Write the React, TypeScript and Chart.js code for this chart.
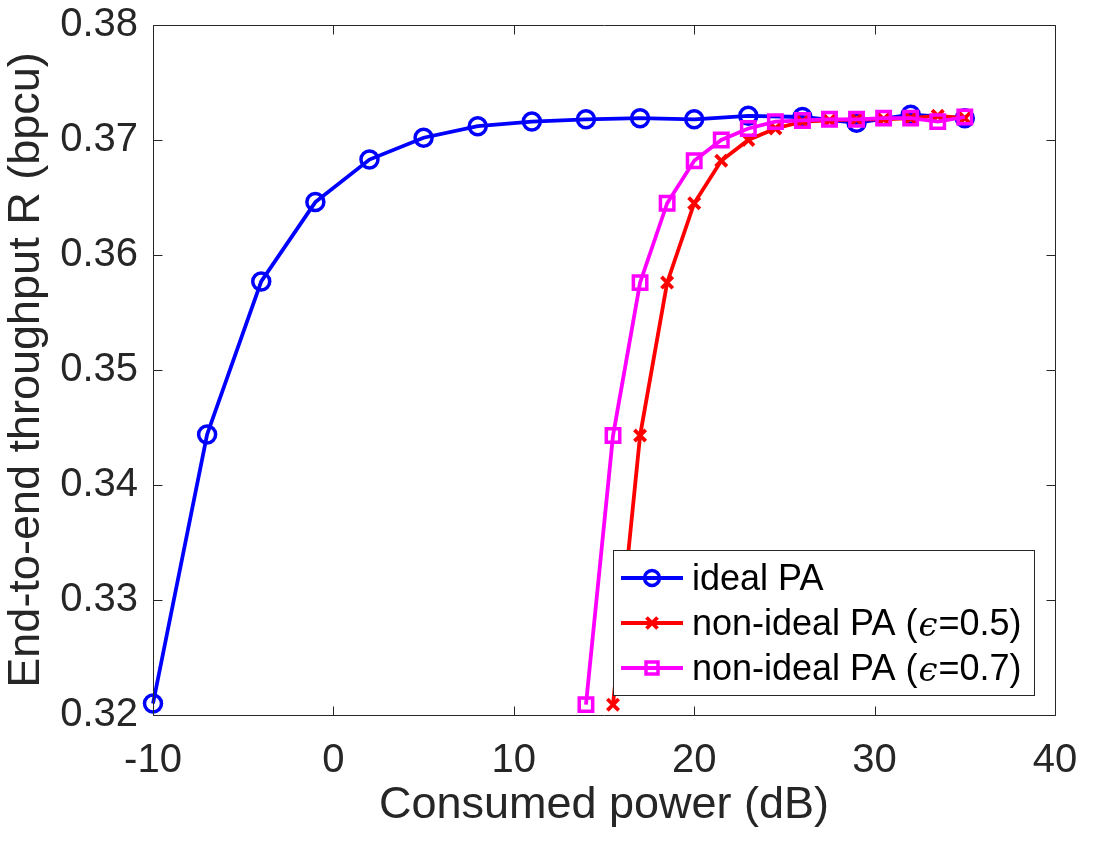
import React, { useEffect, useRef } from "react";
import { Chart, registerables } from "chart.js";

Chart.register(...registerables);

// ---- data ----
const idealX = [-10, -7, -4, -1, 2, 5, 8, 11, 14, 17, 20, 23, 26, 29, 32, 35];
const idealY = [0.321, 0.3444, 0.3577, 0.3646, 0.3683, 0.3702, 0.3712, 0.3716, 0.3718, 0.3719, 0.3718, 0.3721, 0.372, 0.3715, 0.3722, 0.3719];

const nonIdeal05X = [15.5, 17, 18.5, 20, 21.5, 23, 24.5, 26, 27.5, 29, 30.5, 32, 33.5, 35];
const nonIdeal05Y = [0.3209, 0.3443, 0.3576, 0.3645, 0.3682, 0.37, 0.371, 0.3716, 0.3717, 0.3718, 0.3718, 0.3719, 0.3721, 0.3719];

const nonIdeal07X = [14, 15.5, 17, 18.5, 20, 21.5, 23, 24.5, 26, 27.5, 29, 30.5, 32, 33.5, 35];
const nonIdeal07Y = [0.3209, 0.3443, 0.3576, 0.3645, 0.3682, 0.37, 0.371, 0.3716, 0.3717, 0.3718, 0.3718, 0.3719, 0.3719, 0.3716, 0.372];

const xTicks = [-10, 0, 10, 20, 30, 40];
const yTicks = [0.32, 0.33, 0.34, 0.35, 0.36, 0.37, 0.38];

const seriesLabels = ["ideal PA", "non-ideal PA (", "non-ideal PA ("];
const epsValues = ["", "0.5", "0.7"];

const xTitle = "Consumed power (dB)";
const yTitle = "End-to-end throughput R (bpcu)";

const AXIS_COLOR = "#262626";
const FONT = "'Liberation Sans', Arial, Helvetica, sans-serif";

const zip = (xs: number[], ys: number[]) => xs.map((x, i) => ({ x, y: ys[i] }));

function drawMarker(ctx: CanvasRenderingContext2D, style: string, x: number, y: number, r: number) {
  ctx.beginPath();
  if (style === "circle") {
    ctx.arc(x, y, r, 0, Math.PI * 2);
  } else if (style === "rect") {
    ctx.rect(x - r, y - r, 2 * r, 2 * r);
  } else {
    ctx.moveTo(x - r, y - r);
    ctx.lineTo(x + r, y + r);
    ctx.moveTo(x - r, y + r);
    ctx.lineTo(x + r, y - r);
  }
  ctx.stroke();
}

const framePlugin = {
  id: "matlabFrame",
  afterDatasetsDraw(chart: any) {
    const { ctx, chartArea: a, scales } = chart;
    ctx.save();
    ctx.strokeStyle = AXIS_COLOR;
    ctx.lineWidth = 1;
    const L = Math.round(a.left) + 0.5;
    const R = Math.round(a.right) + 0.5;
    const T = Math.round(a.top) + 0.5;
    const B = Math.round(a.bottom) + 0.5;
    ctx.beginPath();
    ctx.rect(L, T, R - L, B - T);
    ctx.stroke();
    const tl = 9;
    ctx.beginPath();
    for (const v of xTicks) {
      const px = Math.round(scales.x.getPixelForValue(v)) + 0.5;
      ctx.moveTo(px, B);
      ctx.lineTo(px, B - tl);
      ctx.moveTo(px, T);
      ctx.lineTo(px, T + tl);
    }
    for (const v of yTicks) {
      const py = Math.round(scales.y.getPixelForValue(v)) + 0.5;
      ctx.moveTo(L, py);
      ctx.lineTo(L + tl, py);
      ctx.moveTo(R, py);
      ctx.lineTo(R - tl, py);
    }
    ctx.stroke();
    ctx.restore();
  },
  afterDraw(chart: any) {
    const { ctx } = chart;
    const box = { left: 613, top: 550, right: 1034, bottom: 695 };
    ctx.save();
    ctx.fillStyle = "#ffffff";
    ctx.fillRect(box.left, box.top, box.right - box.left, box.bottom - box.top);
    ctx.strokeStyle = AXIS_COLOR;
    ctx.lineWidth = 1;
    ctx.strokeRect(box.left + 0.5, box.top + 0.5, box.right - box.left, box.bottom - box.top);
    const rowY = [578, 623, 668];
    chart.data.datasets.forEach((ds: any, i: number) => {
      const y = rowY[i];
      ctx.strokeStyle = ds.borderColor;
      ctx.lineWidth = ds.borderWidth;
      ctx.beginPath();
      ctx.moveTo(621, y);
      ctx.lineTo(683, y);
      ctx.stroke();
      ctx.lineWidth = ds.pointBorderWidth;
      const r = ds.pointStyle === "circle" ? 7.5 : ds.pointStyle === "rect" ? 6 : 5.5;
      drawMarker(ctx, ds.pointStyle, 652, y, r);
      ctx.fillStyle = "#000000";
      ctx.textBaseline = "middle";
      ctx.textAlign = "left";
      ctx.font = `36px ${FONT}`;
      let x = 692;
      const ty = y + 2;
      ctx.fillText(seriesLabels[i], x, ty);
      if (epsValues[i]) {
        x += ctx.measureText(seriesLabels[i]).width + 1;
        ctx.font = `italic 34px 'DejaVu Serif', serif`;
        ctx.fillText("\u03F5", x, ty + 2);
        x += ctx.measureText("\u03F5").width + 1;
        ctx.font = `36px ${FONT}`;
        ctx.fillText("=" + epsValues[i] + ")", x, ty);
      }
    });
    ctx.restore();
  },
};

export default function App() {
  const ref = useRef<HTMLCanvasElement | null>(null);

  useEffect(() => {
    if (!ref.current) return;
    const chart = new Chart(ref.current, {
      type: "line",
      data: {
        datasets: [
          {
            label: "ideal PA",
            data: zip(idealX, idealY),
            borderColor: "#0000ff",
            borderWidth: 3.8,
            pointStyle: "circle",
            pointRadius: 8.5,
            pointBorderWidth: 3.5,
            pointBackgroundColor: "rgba(0,0,0,0)",
            pointBorderColor: "#0000ff",
            tension: 0,
            fill: false,
            clip: false,
            order: 2,
          } as any,
          {
            label: "non-ideal PA (\u03F5=0.5)",
            data: zip(nonIdeal05X, nonIdeal05Y),
            borderColor: "#ff0000",
            borderWidth: 3.8,
            pointStyle: "crossRot",
            pointRadius: 8,
            pointBorderWidth: 3.8,
            pointBackgroundColor: "rgba(0,0,0,0)",
            pointBorderColor: "#ff0000",
            tension: 0,
            fill: false,
            clip: false,
            order: 1,
          } as any,
          {
            label: "non-ideal PA (\u03F5=0.7)",
            data: zip(nonIdeal07X, nonIdeal07Y),
            borderColor: "#ff00ff",
            borderWidth: 3.8,
            pointStyle: "rect",
            pointRadius: 9.5,
            pointBorderWidth: 3.5,
            pointBackgroundColor: "rgba(0,0,0,0)",
            pointBorderColor: "#ff00ff",
            tension: 0,
            fill: false,
            clip: false,
            order: 0,
          } as any,
        ],
      },
      options: {
        responsive: false,
        animation: false,
        devicePixelRatio: 1,
        layout: { padding: { top: 25, right: 58, left: 0, bottom: 0 } },
        plugins: {
          legend: { display: false },
          tooltip: { enabled: false },
        },
        scales: {
          x: {
            type: "linear",
            min: -10,
            max: 40,
            afterBuildTicks: (s: any) => {
              s.ticks = xTicks.map((v) => ({ value: v }));
            },
            afterFit: (s: any) => {
              s.height = 140;
              s.paddingLeft = 0;
              s.paddingRight = 0;
            },
            grid: { display: false, drawTicks: false, tickLength: 0 },
            border: { display: false },
            ticks: {
              color: AXIS_COLOR,
              font: { family: FONT, size: 40 },
              padding: 22,
              maxRotation: 0,
              autoSkip: false,
              callback: (v: any) => String(v),
            },
            title: {
              display: true,
              text: xTitle,
              color: AXIS_COLOR,
              font: { family: FONT, size: 45 },
              padding: { top: 0, bottom: 22 },
            },
          },
          y: {
            type: "linear",
            min: 0.32,
            max: 0.38,
            afterBuildTicks: (s: any) => {
              s.ticks = yTicks.map((v) => ({ value: v }));
            },
            afterFit: (s: any) => {
              s.width = 153;
              s.paddingTop = 0;
              s.paddingBottom = 0;
            },
            grid: { display: false, drawTicks: false, tickLength: 0 },
            border: { display: false },
            ticks: {
              color: AXIS_COLOR,
              font: { family: FONT, size: 40 },
              padding: 15,
              autoSkip: false,
              callback: (v: any) => Number(v).toFixed(2),
            },
            title: {
              display: true,
              text: yTitle,
              color: AXIS_COLOR,
              font: { family: FONT, size: 45 },
              padding: { top: 0, bottom: 0 },
            },
          },
        },
      },
      plugins: [framePlugin],
    });
    return () => chart.destroy();
  }, []);

  return (
    <div style={{ position: "fixed", left: 0, top: 0, width: 1113, height: 855, background: "#fff" }}>
      <canvas ref={ref} width={1113} height={855} style={{ display: "block", width: 1113, height: 855 }} />
    </div>
  );
}
